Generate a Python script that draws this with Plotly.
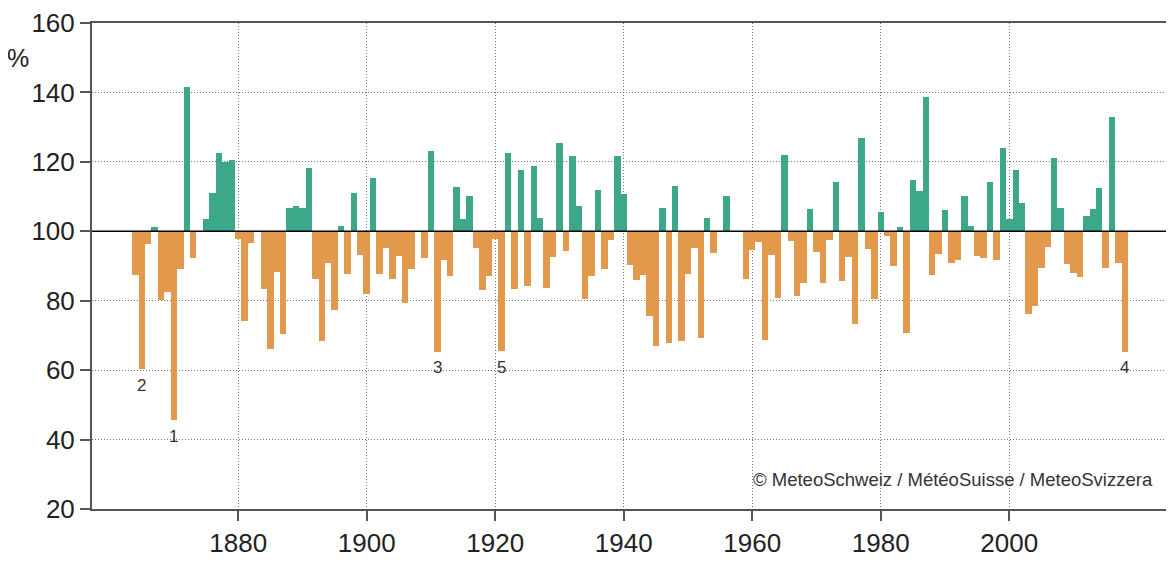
import plotly.graph_objects as go

start_year = 1864
values = [
    87.5, 60.2, 96.3, 101.2, 80.1, 82.4, 45.6, 89.1, 141.5, 92.2,      # 1864-1873
    100.0, 103.4, 111.1, 122.5, 120.0, 120.6, 97.9, 74.2, 96.7, 100.0,  # 1874-1883
    83.5, 66.2, 88.3, 70.4, 106.8, 107.3, 106.6, 118.1, 86.4, 68.4,     # 1884-1893
    91.0, 77.3, 101.4, 87.8, 111.1, 93.3, 81.9, 115.4, 87.6, 95.2,      # 1894-1903
    86.4, 92.9, 79.4, 89.0, 100.0, 92.4, 123.1, 65.3, 91.7, 87.1,       # 1904-1913
    112.9, 103.4, 110.3, 95.2, 83.2, 87.1, 97.9, 65.5, 122.6, 83.5,     # 1914-1923
    117.6, 84.2, 118.7, 103.8, 83.8, 92.6, 125.5, 94.3, 121.6, 107.4,   # 1924-1933
    80.4, 87.0, 112.0, 89.1, 97.6, 121.6, 110.8, 90.4, 85.9, 87.3,      # 1934-1943
    75.5, 66.9, 106.6, 67.7, 113.0, 68.4, 87.8, 95.2, 69.3, 103.9,      # 1944-1953
    93.8, 100.0, 110.1, 100.0, 100.0, 86.2, 94.5, 96.9, 68.8, 93.1,     # 1954-1963
    80.9, 121.9, 97.1, 81.3, 85.1, 106.3, 93.9, 85.1, 97.4, 114.1,      # 1964-1973
    85.6, 92.6, 73.4, 126.9, 95.0, 80.6, 105.5, 98.6, 89.9, 101.2,      # 1974-1983
    70.7, 114.9, 111.5, 138.7, 87.5, 93.4, 106.2, 90.9, 91.7, 110.2,    # 1984-1993
    101.6, 92.8, 92.4, 114.2, 91.7, 124.0, 103.4, 117.7, 108.2, 76.1,   # 1994-2003
    78.5, 89.5, 95.5, 121.1, 106.8, 90.7, 88.1, 86.9, 104.4, 106.5,     # 2004-2013
    112.6, 89.5, 132.9, 90.9, 65.3,                                     # 2014-2018
]
years = list(range(start_year, start_year + len(values)))

rank_years = [1870, 1865, 1911, 2018, 1921]
rank_labels = ["1", "2", "3", "4", "5"]

y_ticks = [20, 40, 60, 80, 100, 120, 140, 160]
x_ticks = [1880, 1900, 1920, 1940, 1960, 1980, 2000]

BASE = 100
GREEN = "#3DA889"
ORANGE = "#E2994B"
FONT = "Arial, Liberation Sans, sans-serif"

colors = [GREEN if v >= BASE else ORANGE for v in values]

fig = go.Figure()
fig.add_trace(go.Bar(
    x=years,
    y=[v - BASE for v in values],
    base=[BASE] * len(values),
    marker=dict(color=colors, line=dict(width=0)),
    width=1.0,
    showlegend=False,
))

fig.add_hline(y=BASE, line=dict(color="#000000", width=1.5))

for yr, lab in zip(rank_years, rank_labels):
    v = values[years.index(yr)]
    fig.add_annotation(x=yr, y=v, text=lab, showarrow=False,
                       xanchor="center", yanchor="middle", yshift=-16,
                       font=dict(family=FONT, size=17, color="#333333"))

fig.add_annotation(xref="paper", yref="paper", x=0.9875, y=0.06,
                   text="© MeteoSchweiz / MétéoSuisse / MeteoSvizzera",
                   showarrow=False, xanchor="right", yanchor="middle",
                   font=dict(family=FONT, size=18.5, color="#333333"))

fig.add_annotation(xref="paper", yref="paper", x=-0.069, y=0.928,
                   text="%", showarrow=False, xanchor="center", yanchor="middle",
                   font=dict(family=FONT, size=25, color="#222222"))

# page body has an 8px default margin: compensate so the plot area lands
# at x 92..1168, y 23..509 of the window
fig.update_layout(
    width=1166, height=554,
    margin=dict(l=84, r=6, t=15, b=53, autoexpand=False),
    paper_bgcolor="white", plot_bgcolor="white",
    bargap=0,
    font=dict(family=FONT, size=26, color="#222222"),
)

axis_common = dict(
    ticks="outside", ticklen=10, tickwidth=1.5, tickcolor="#555555",
    showline=True, linecolor="#555555", linewidth=2, mirror=True,
    showgrid=True, gridcolor="#777777", griddash="1px,2px", gridwidth=1,
    zeroline=False, automargin=False,
    tickfont=dict(family=FONT, size=26, color="#222222"),
)
fig.update_xaxes(range=[1857.25, 2024.7], tickvals=x_ticks,
                 ticktext=[str(t) for t in x_ticks], **axis_common)
fig.update_yaxes(range=[20, 160], tickvals=y_ticks,
                 ticktext=[str(t) for t in y_ticks], **axis_common)

fig.write_html("out.html")
